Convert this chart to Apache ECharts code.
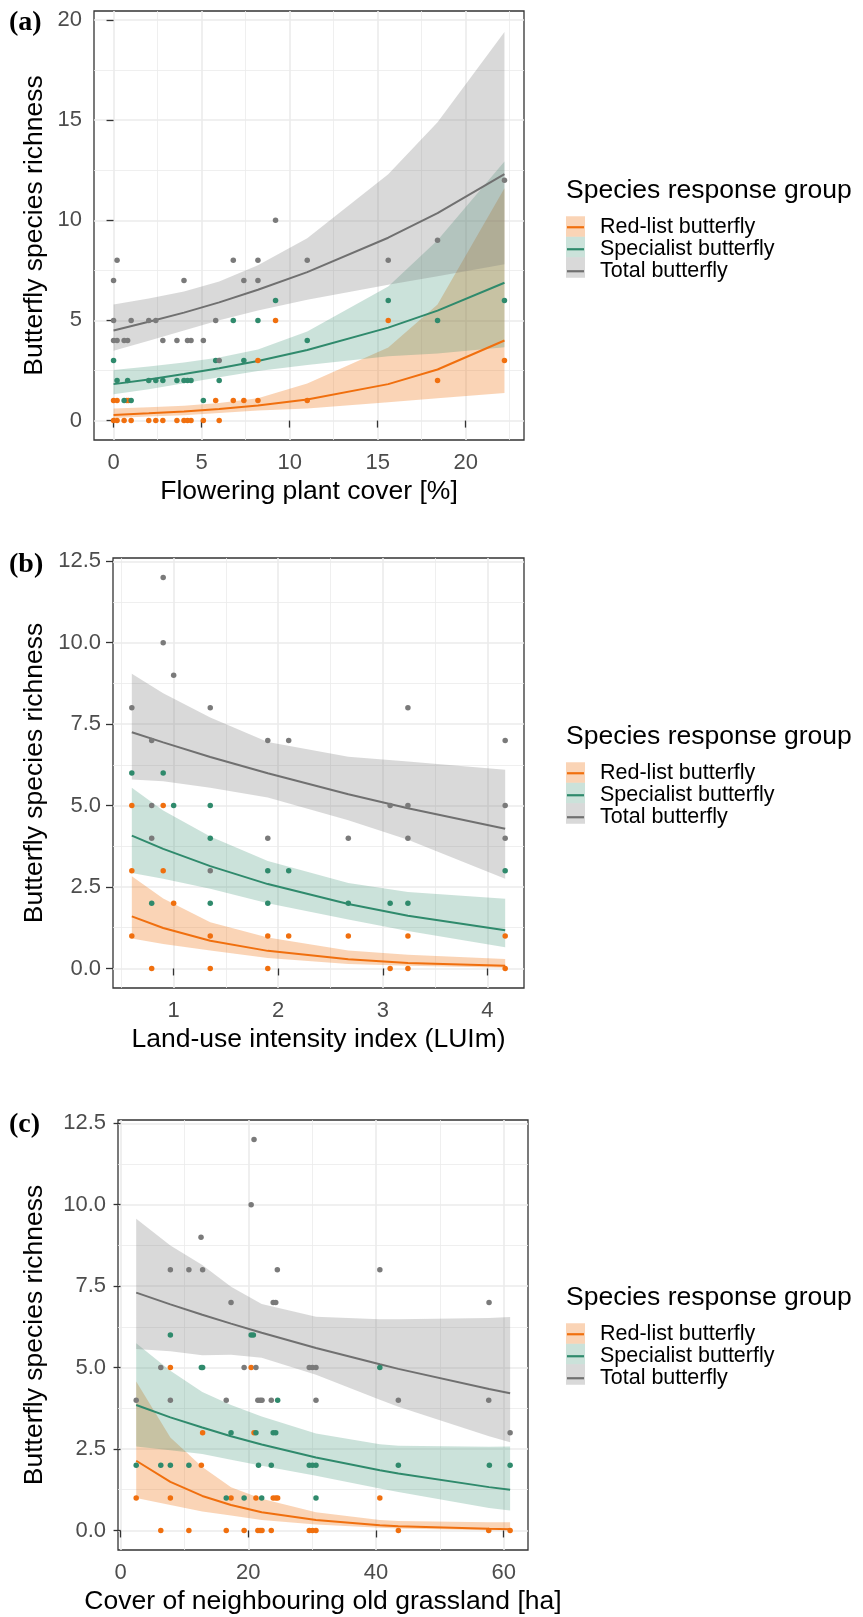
<!DOCTYPE html>
<html>
<head>
<meta charset="utf-8">
<script src="https://cdn.jsdelivr.net/npm/echarts@6/dist/echarts.min.js"></script>
<style>
  html, body { margin: 0; padding: 0; background: #fff; }
  #chart { width: 863px; height: 1617px; }
</style>
</head>
<body>
<div id="chart"></div>
<script>
// groups
var groups = ['Red-list butterfly', 'Specialist butterfly', 'Total butterfly'];

// (a) flowering plant cover - fitted curve + 95% band
var aX = [0, 2, 4, 6, 8.2, 11, 15.6, 18.4, 22.2];
var aRedFit = [0.28, 0.36, 0.45, 0.575, 0.75, 1.05, 1.82, 2.55, 4.0];
var aRedLo = [0.13, 0.2, 0.27, 0.38, 0.5, 0.6, 0.91, 1.12, 1.38];
var aRedHi = [0.6, 0.66, 0.74, 0.88, 1.12, 1.85, 3.65, 5.8, 11.6];
var aSpecFit = [1.82, 2.05, 2.32, 2.61, 2.97, 3.52, 4.64, 5.49, 6.88];
var aSpecLo = [1.31, 1.56, 1.86, 2.16, 2.48, 2.78, 3.21, 3.35, 3.66];
var aSpecHi = [2.52, 2.7, 2.9, 3.15, 3.55, 4.45, 6.7, 9.0, 12.93];
var aTotFit = [4.5, 4.93, 5.39, 5.9, 6.53, 7.41, 9.13, 10.36, 12.3];
var aTotLo = [3.49, 3.98, 4.5, 5.01, 5.5, 6.03, 6.78, 7.2, 7.8];
var aTotHi = [5.8, 6.1, 6.45, 6.95, 7.75, 9.1, 12.3, 14.9, 19.4];
// (a) observed sites
var aRedPts = [[0,0],[0.2,0],[0.6,0],[1.0,0],[2.0,0],[2.4,0],[2.8,0],[3.6,0],[4.0,0],[4.2,0],[4.4,0],[5.1,0],[6.0,0],
  [0,1],[0.2,1],[0.75,1],[0.85,1],[5.8,1],[6.8,1],[7.4,1],[8.2,1],[11.0,1],[18.4,2],[8.2,3],[22.2,3],[9.2,5],[15.6,5]];
var aSpecPts = [[9.2,6],[15.6,6],[22.2,6],[6.8,5],[8.2,5],[18.4,5],[11.0,4],[0,3],[5.8,3],[7.4,3],
  [0.2,2],[0.8,2],[2.0,2],[2.4,2],[2.8,2],[3.6,2],[4.0,2],[4.2,2],[4.4,2],[6.0,2],[0.6,1],[1.0,1],[5.1,1]];
var aTotPts = [[9.2,10],[22.2,12],[18.4,9],[0.2,8],[6.8,8],[8.2,8],[11.0,8],[15.6,8],[0,7],[4.0,7],[7.4,7],[8.2,7],
  [0,5],[1.0,5],[2.0,5],[2.4,5],[5.8,5],[0,4],[0.2,4],[0.6,4],[0.8,4],[2.8,4],[3.6,4],[4.2,4],[4.4,4],[5.1,4],[6.0,3]];

// (b) land-use intensity
var bX = [0.6, 0.9, 1.35, 1.9, 2.67, 3.24, 4.17];
var bRedFit = [1.6, 1.24, 0.85, 0.54, 0.28, 0.17, 0.08];
var bRedLo = [0.92, 0.75, 0.55, 0.32, 0.14, 0.08, 0.02];
var bRedHi = [2.83, 2.15, 1.42, 0.95, 0.55, 0.42, 0.29];
var bSpecFit = [4.08, 3.67, 3.14, 2.59, 1.98, 1.62, 1.17];
var bSpecLo = [2.93, 2.75, 2.45, 2.0, 1.5, 1.15, 0.65];
var bSpecHi = [5.55, 4.85, 4.05, 3.3, 2.62, 2.35, 2.14];
var bTotFit = [7.25, 6.94, 6.49, 5.99, 5.35, 4.92, 4.29];
var bTotLo = [5.8, 5.75, 5.55, 5.25, 4.55, 3.95, 2.75];
var bTotHi = [9.05, 8.45, 7.7, 6.95, 6.5, 6.35, 6.1];
var bRedPts = [[0.6,5],[0.9,5],[0.6,3],[0.9,3],[1.0,2],[0.6,1],[1.35,1],[1.9,1],[2.1,1],[2.67,1],[3.24,1],[4.17,1],
  [0.79,0],[1.35,0],[1.9,0],[3.07,0],[3.24,0],[4.17,0]];
var bSpecPts = [[0.6,6],[0.9,6],[1.0,5],[1.35,5],[1.35,4],[1.9,3],[2.1,3],[4.17,3],[0.79,2],[1.35,2],[1.9,2],[2.67,2],[3.07,2],[3.24,2]];
var bTotPts = [[0.9,12],[0.9,10],[1.0,9],[0.6,8],[1.35,8],[3.24,8],[0.79,7],[1.9,7],[2.1,7],[4.17,7],[0.79,5],[3.07,5],[3.24,5],[4.17,5],
  [0.79,4],[1.9,4],[2.67,4],[3.24,4],[4.17,4],[1.35,3]];

// (c) neighbouring old grassland
var cX = [2.45, 7.8, 12.8, 17.3, 22.1, 30.6, 40.6, 43.5, 57.7, 61.0];
var cRedFit = [2.14, 1.49, 1.06, 0.78, 0.56, 0.32, 0.16, 0.13, 0.05, 0.04];
var cRedLo = [1.0, 0.78, 0.58, 0.46, 0.32, 0.18, 0.08, 0.06, 0.01, 0.006];
var cRedHi = [4.57, 2.85, 1.95, 1.33, 0.97, 0.56, 0.32, 0.29, 0.25, 0.25];
var cSpecFit = [3.85, 3.47, 3.16, 2.89, 2.64, 2.24, 1.85, 1.75, 1.33, 1.25];
var cSpecLo = [2.58, 2.46, 2.35, 2.17, 1.99, 1.68, 1.29, 1.18, 0.69, 0.61];
var cSpecHi = [5.75, 4.9, 4.25, 3.85, 3.5, 2.98, 2.65, 2.6, 2.57, 2.58];
var cTotFit = [7.3, 6.94, 6.62, 6.35, 6.07, 5.6, 5.1, 4.96, 4.34, 4.21];
var cTotLo = [5.57, 5.5, 5.38, 5.39, 5.3, 4.78, 4.01, 3.8, 2.89, 2.71];
var cTotHi = [9.57, 8.75, 8.15, 7.48, 6.95, 6.56, 6.48, 6.48, 6.52, 6.55];
var cRedPts = [[7.8,5],[20.45,5],[12.85,3],[20.9,3],[12.65,2],[2.45,1],[7.8,1],[17.3,1],[21.2,1],[23.9,1],[24.3,1],[24.6,1],[40.6,1],
  [6.3,0],[10.7,0],[16.55,0],[19.35,0],[21.5,0],[21.85,0],[22.15,0],[23.6,0],[29.55,0],[30.05,0],[30.6,0],[43.5,0],[57.65,0],[61.0,0]];
var cSpecPts = [[7.8,6],[20.45,6],[20.8,6],[12.65,5],[12.85,5],[40.6,5],[24.6,4],[17.3,3],[21.2,3],[23.9,3],[24.3,3],
  [2.45,2],[6.3,2],[7.8,2],[10.7,2],[21.6,2],[23.6,2],[29.55,2],[30.05,2],[30.6,2],[43.5,2],[57.75,2],[61.0,2],
  [16.55,1],[19.35,1],[22.1,1],[30.6,1]];
var cTotPts = [[20.9,12],[20.45,10],[12.6,9],[7.8,8],[10.7,8],[12.85,8],[24.55,8],[40.6,8],[17.3,7],[23.9,7],[24.3,7],[57.7,7],
  [6.3,5],[19.35,5],[21.2,5],[29.55,5],[30.05,5],[30.6,5],[2.45,4],[7.8,4],[16.55,4],[21.5,4],[21.85,4],[22.15,4],[23.6,4],
  [30.6,4],[43.5,4],[57.65,4],[61.0,3]];

// ticks
var aXTicks = [0, 5, 10, 15, 20], aXMinor = [2.5, 7.5, 12.5, 17.5, 22.5];
var aYTicks = [0, 5, 10, 15, 20], aYMinor = [2.5, 7.5, 12.5, 17.5];
var bXTicks = [1, 2, 3, 4], bXMinor = [0.5, 1.5, 2.5, 3.5];
var cXTicks = [0, 20, 40, 60], cXMinor = [10, 30, 50];
var bcYTicks = [0, 2.5, 5, 7.5, 10, 12.5], bcYMinor = [1.25, 3.75, 6.25, 8.75, 11.25];

var lineCol = ['#f06f0e', '#2f8a6c', '#707070'];
var dotCol = ['#f06f0e', '#2f8a6c', '#7a7a7a'];
var fillCol = ['rgba(240,112,14,0.3)', 'rgba(47,138,108,0.25)', 'rgba(120,120,120,0.28)'];

var panels = [
  { tag: '(a)', grid: {left: 94, top: 11, width: 430, height: 429}, xMin: -1.11, xMax: 23.31, yMin: -0.97, yMax: 20.45,
    xTicks: aXTicks, xMinor: aXMinor, yTicks: aYTicks, yMinor: aYMinor, yFmt: function (v) { return String(v); },
    xName: 'Flowering plant cover [%]', x: aX,
    fit: [aRedFit, aSpecFit, aTotFit], lo: [aRedLo, aSpecLo, aTotLo], hi: [aRedHi, aSpecHi, aTotHi],
    pts: [aRedPts, aSpecPts, aTotPts], legTop: 190.5, tagTop: 9 },
  { tag: '(b)', grid: {left: 113, top: 558, width: 411, height: 430}, xMin: 0.42, xMax: 4.35, yMin: -0.6, yMax: 12.6,
    xTicks: bXTicks, xMinor: bXMinor, yTicks: bcYTicks, yMinor: bcYMinor, yFmt: function (v) { return v.toFixed(1); },
    xName: 'Land-use intensity index (LUIm)', x: bX,
    fit: [bRedFit, bSpecFit, bTotFit], lo: [bRedLo, bSpecLo, bTotLo], hi: [bRedHi, bSpecHi, bTotHi],
    pts: [bRedPts, bSpecPts, bTotPts], legTop: 736.5, tagTop: 551 },
  { tag: '(c)', grid: {left: 118, top: 1120, width: 410, height: 430}, xMin: -0.4, xMax: 63.8, yMin: -0.6, yMax: 12.6,
    xTicks: cXTicks, xMinor: cXMinor, yTicks: bcYTicks, yMinor: bcYMinor, yFmt: function (v) { return v.toFixed(1); },
    xName: 'Cover of neighbouring old grassland [ha]', x: cX,
    fit: [cRedFit, cSpecFit, cTotFit], lo: [cRedLo, cSpecLo, cTotLo], hi: [cRedHi, cSpecHi, cTotHi],
    pts: [cRedPts, cSpecPts, cTotPts], legTop: 1297.5, tagTop: 1111 }
];

var grids = [], xAxes = [], yAxes = [], series = [], legends = [], titles = [];

panels.forEach(function (p, gi) {
  var g = p.grid;
  grids.push({left: g.left, top: g.top, width: g.width, height: g.height, show: true,
    backgroundColor: '#fff', borderColor: '#333', borderWidth: 1.3, containLabel: false});

  // main axes
  xAxes.push({
    type: 'value', gridIndex: gi, min: p.xMin, max: p.xMax,
    axisLine: {show: false},
    axisTick: {show: true, length: 7, lineStyle: {color: '#333', width: 1.3}, customValues: p.xTicks},
    axisLabel: {customValues: p.xTicks, margin: 12, fontSize: 22, color: '#4d4d4d'},
    splitLine: {show: true, lineStyle: {color: '#ebebeb', width: 1.6}},
    name: p.xName, nameLocation: 'middle', nameGap: 38,
    nameTextStyle: {fontSize: 26.5, color: '#000'}
  });
  xAxes.push({
    type: 'value', gridIndex: gi, min: p.xMin, max: p.xMax,
    axisLine: {show: false}, axisTick: {show: false, customValues: p.xMinor},
    axisLabel: {show: false, customValues: p.xMinor},
    splitLine: {show: true, lineStyle: {color: '#ebebeb', width: 0.8}}
  });
  yAxes.push({
    type: 'value', gridIndex: gi, min: p.yMin, max: p.yMax,
    axisLine: {show: false},
    axisTick: {show: true, length: 7, lineStyle: {color: '#333', width: 1.3}, customValues: p.yTicks},
    axisLabel: {customValues: p.yTicks, margin: 12, fontSize: 22, color: '#4d4d4d', formatter: p.yFmt},
    splitLine: {show: true, lineStyle: {color: '#ebebeb', width: 1.6}},
    name: 'Butterfly species richness', nameLocation: 'middle', nameGap: g.left - 48,
    nameTextStyle: {fontSize: 26.5, color: '#000'}
  });
  yAxes.push({
    type: 'value', gridIndex: gi, min: p.yMin, max: p.yMax,
    axisLine: {show: false}, axisTick: {show: false, customValues: p.yMinor},
    axisLabel: {show: false, customValues: p.yMinor},
    splitLine: {show: true, lineStyle: {color: '#ebebeb', width: 0.8}}
  });

  var ax = gi * 2;
  // confidence bands
  groups.forEach(function (name, k) {
    var pts = p.x.map(function (x, i) { return [x, p.lo[k][i], p.hi[k][i]]; });
    series.push({
      type: 'custom', name: name, xAxisIndex: ax, yAxisIndex: ax, silent: true, z: 2,
      data: pts, encode: {x: 0, y: [1, 2]},
      renderItem: function (params, api) {
        if (params.dataIndex !== 0) return;
        var top = pts.map(function (d) { return api.coord([d[0], d[2]]); });
        var bot = pts.map(function (d) { return api.coord([d[0], d[1]]); }).reverse();
        return {type: 'polygon', shape: {points: top.concat(bot)}, style: {fill: fillCol[k]}};
      }
    });
  });
  // fitted lines
  groups.forEach(function (name, k) {
    series.push({
      type: 'line', name: name, xAxisIndex: ax, yAxisIndex: ax, silent: true, z: 3,
      data: p.x.map(function (x, i) { return [x, p.fit[k][i]]; }),
      symbol: 'none', lineStyle: {color: lineCol[k], width: 2}, itemStyle: {color: lineCol[k]}
    });
  });
  // observed points
  groups.forEach(function (name, k) {
    series.push({
      type: 'scatter', name: name, xAxisIndex: ax, yAxisIndex: ax, silent: true, z: 4,
      data: p.pts[k], symbolSize: 5.5, itemStyle: {color: dotCol[k], opacity: 1}
    });
  });

  // legend: filled keys, then line + text
  var T = p.legTop;
  legends.push({
    left: 566, top: T + 36 - 10.25, orient: 'vertical', itemWidth: 19, itemHeight: 20.5, itemGap: 0,
    selectedMode: false, icon: 'rect', padding: 0,
    formatter: function () { return ''; }, textStyle: {fontSize: 1, lineHeight: 1},
    data: groups.map(function (n, k) { return {name: n, itemStyle: {color: fillCol[k], borderWidth: 0}}; })
  });
  legends.push({
    left: 567, top: T + 36 - 10.25, orient: 'vertical', itemWidth: 17, itemHeight: 2.2, itemGap: 0,
    selectedMode: false, icon: 'rect', padding: 0,
    textStyle: {fontSize: 21.5, lineHeight: 20.5, color: '#000', padding: [0, 0, 0, 11]},
    data: groups.map(function (n, k) { return {name: n, itemStyle: {color: lineCol[k], borderWidth: 0}}; })
  });
  titles.push({text: 'Species response group', left: 566, top: T - 13.25, padding: 0,
    textStyle: {fontSize: 26.5, lineHeight: 26.5, fontWeight: 'normal', color: '#000'}});
  titles.push({text: p.tag, left: 9, top: p.tagTop, padding: 0,
    textStyle: {fontFamily: 'Liberation Serif', fontWeight: 'bold', fontSize: 28, lineHeight: 28, color: '#000'}});
});

var chart = echarts.init(document.getElementById('chart'), null, {renderer: 'canvas'});
chart.setOption({
  animation: false,
  backgroundColor: '#fff',
  textStyle: {fontFamily: 'Liberation Sans'},
  title: titles,
  legend: legends,
  grid: grids,
  xAxis: xAxes,
  yAxis: yAxes,
  series: series
});
</script>
</body>
</html>
